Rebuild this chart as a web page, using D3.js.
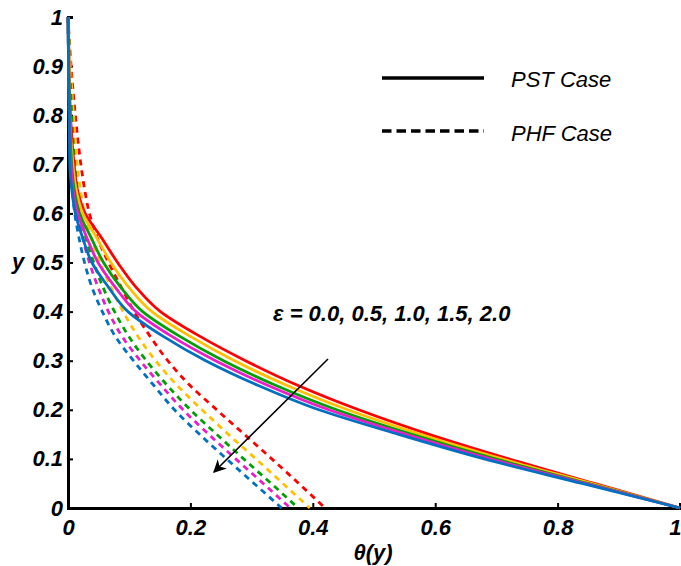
<!DOCTYPE html>
<html><head><meta charset="utf-8">
<script src="https://cdn.jsdelivr.net/npm/d3@7"></script>
<style>
body{margin:0;background:#fff;}
svg{display:block;}
text{font-family:"Liberation Sans",Arial,sans-serif;}
</style></head>
<body><svg id="c" width="681" height="566"></svg>
<script>
// y grid shared by all curves
const yGrid = [1,0.9,0.8,0.7,0.65,0.6,0.55,0.5,0.45,0.4,0.35,0.3,0.25,0.2,0.15,0.1,0.05,0];
const epsLabels = ["0.0","0.5","1.0","1.5","2.0"];
const seriesColors = ["#ff0000","#ffc000","#00a000","#e81ec8","#0070c0"];
// PST case (solid) theta values on yGrid
const pstEps00 = [0,0.002,0.004,0.010,0.015,0.028,0.055,0.081,0.111,0.151,0.215,0.290,0.375,0.475,0.590,0.720,0.860,1];
const pstEps05 = [0,0.002,0.003,0.008,0.013,0.024,0.047,0.070,0.099,0.137,0.199,0.272,0.357,0.457,0.576,0.709,0.855,1];
const pstEps10 = [0,0.001,0.003,0.006,0.010,0.019,0.038,0.058,0.086,0.122,0.182,0.254,0.339,0.439,0.562,0.698,0.849,1];
const pstEps15 = [0,0.001,0.002,0.005,0.008,0.016,0.031,0.049,0.077,0.111,0.169,0.241,0.326,0.426,0.552,0.690,0.845,1];
const pstEps20 = [0,0.001,0.002,0.003,0.006,0.012,0.024,0.039,0.066,0.098,0.155,0.225,0.310,0.410,0.540,0.680,0.840,1];
// PHF case (dashed)
const phfEps00 = [0,0.005,0.012,0.021,0.027,0.035,0.048,0.066,0.087,0.108,0.134,0.163,0.199,0.243,0.288,0.333,0.377,0.420];
const phfEps05 = [0,0.004,0.009,0.015,0.020,0.027,0.038,0.052,0.070,0.090,0.114,0.143,0.178,0.219,0.262,0.307,0.351,0.395];
const phfEps10 = [0,0.003,0.006,0.011,0.015,0.020,0.029,0.042,0.057,0.076,0.099,0.128,0.162,0.200,0.243,0.287,0.332,0.376];
const phfEps15 = [0,0.002,0.004,0.007,0.011,0.016,0.024,0.035,0.049,0.066,0.088,0.118,0.152,0.188,0.230,0.274,0.319,0.363];
const phfEps20 = [0,0.001,0.002,0.004,0.007,0.011,0.018,0.027,0.039,0.056,0.077,0.107,0.140,0.174,0.215,0.259,0.304,0.349];
const xTicks = [0,0.2,0.4,0.6,0.8,1];
const yTicks = [0,0.1,0.2,0.3,0.4,0.5,0.6,0.7,0.8,0.9,1];
const legendLabels = ["PST Case","PHF Case"];

const pst = [pstEps00,pstEps05,pstEps10,pstEps15,pstEps20];
const phf = [phfEps00,phfEps05,phfEps10,phfEps15,phfEps20];

const svg = d3.select("#c");
const x = d3.scaleLinear().domain([0,1]).range([68,680]);
const y = d3.scaleLinear().domain([0,1]).range([508,17]);

const font = "bold italic 22px 'Liberation Sans', Arial, sans-serif";

// axes
const gx = svg.append("g").attr("transform","translate(0,508)")
  .call(d3.axisBottom(x).tickValues(xTicks).tickSize(-5).tickPadding(11).tickFormat(d3.format("")));
const gy = svg.append("g").attr("transform","translate(68,0)")
  .call(d3.axisLeft(y).tickValues(yTicks).tickSize(-5).tickPadding(5).tickFormat(d3.format("")));
[gx,gy].forEach(g=>{
  g.select(".domain").attr("stroke","#000").attr("stroke-width",3);
  g.selectAll(".tick line").attr("stroke","#000").attr("stroke-width",2);
  g.selectAll(".tick text").style("font",font).attr("fill","#000");
});
gx.selectAll(".tick text").attr("dy","0.71em");
// keep the last x tick label inside the picture
gx.selectAll(".tick text").filter(d=>d===1).attr("text-anchor","end").attr("dx","1");

const line = d3.line().x(d=>x(d[0])).y(d=>y(d[1])).curve(d3.curveMonotoneY);

// dashed PHF
phf.forEach((s,i)=>{
  svg.append("path").datum(s.map((t,k)=>[t,yGrid[k]]))
    .attr("d",line).attr("fill","none").attr("stroke",seriesColors[i])
    .attr("stroke-width",2.8).attr("stroke-dasharray","6,5");
});
// solid PST
pst.forEach((s,i)=>{
  svg.append("path").datum(s.map((t,k)=>[t,yGrid[k]]))
    .attr("d",line).attr("fill","none").attr("stroke",seriesColors[i])
    .attr("stroke-width",2.8);
});

// axis labels
svg.append("text").attr("x",12).attr("y",269).style("font",font).attr("fill","#000").text("y");
svg.append("text").attr("x",373).attr("y",560).attr("text-anchor","middle")
  .style("font",font).attr("fill","#000").text("θ(y)");

// legend
svg.append("line").attr("x1",382).attr("x2",484).attr("y1",78).attr("y2",78)
  .attr("stroke","#000").attr("stroke-width",3.5);
svg.append("line").attr("x1",382).attr("x2",484).attr("y1",131).attr("y2",131)
  .attr("stroke","#000").attr("stroke-width",3.5).attr("stroke-dasharray","9.5,5");
const legFont = "italic 22px 'Liberation Sans', Arial, sans-serif";
svg.append("text").attr("x",511).attr("y",87).style("font",legFont).text(legendLabels[0]);
svg.append("text").attr("x",511).attr("y",141).style("font",legFont).text(legendLabels[1]);

// annotation
svg.append("text").attr("x",273).attr("y",321).style("font",font)
  .text("ε = " + epsLabels.join(", "));

// arrow
svg.append("defs").append("marker").attr("id","ah").attr("viewBox","0 0 10 10")
  .attr("refX",9).attr("refY",5).attr("markerWidth",13).attr("markerHeight",13)
  .attr("markerUnits","userSpaceOnUse").attr("orient","auto")
  .append("path").attr("d","M0,0 L10,5 L0,10 L3,5 z").attr("fill","#000");
svg.append("line").attr("x1",328).attr("y1",359).attr("x2",214).attr("y2",472)
  .attr("stroke","#000").attr("stroke-width",1.6).attr("marker-end","url(#ah)");
</script></body></html>
